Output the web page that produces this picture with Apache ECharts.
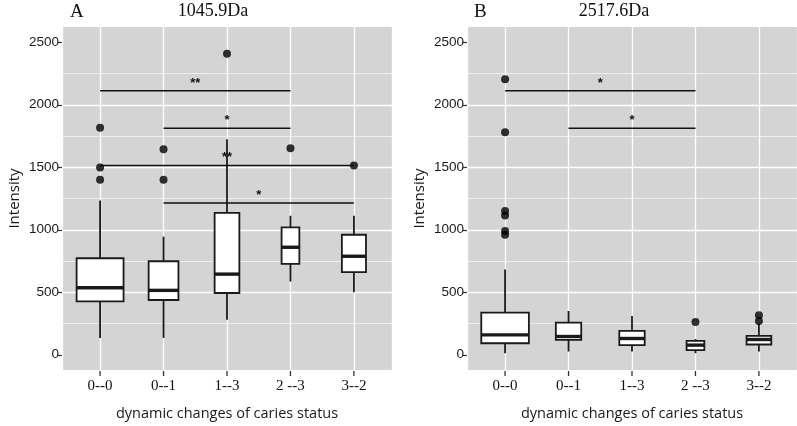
<!DOCTYPE html>
<html><head><meta charset="utf-8">
<script src="https://cdn.jsdelivr.net/npm/echarts@6/dist/echarts.min.js"></script>
<style>html,body{margin:0;padding:0;background:#fff}#c{width:797px;height:426px}</style>
</head><body><div id="c"></div>
<script>
const categories = ['0--0', '0--1', '1--3', '2 --3', '3--2'];
const yTicks = [0, 500, 1000, 1500, 2000, 2500];

// Panel A: 1045.9Da
const lowA = [135, 135, 281, 586, 501];
const q1A = [427, 438, 494, 727, 661];
const medA = [536, 515, 645, 860, 788];
const q3A = [772, 748, 1135, 1019, 960];
const highA = [1234, 945, 1725, 1112, 1112];
const outA = [[1817, 1499, 1401], [1645, 1401], [2409], [1653], [1515]];
const sigA = [[0, 3, 2112, '**'], [1, 3, 1812, '*'], [0, 4, 1515, '**'], [1, 4, 1215, '*']];

// Panel B: 2517.6Da
const lowB = [13, 26, 26, 13, 26];
const q1B = [92, 119, 77, 37, 82];
const medB = [159, 146, 130, 77, 122];
const q3B = [337, 257, 191, 111, 151];
const highB = [682, 350, 310, 125, 249];
const outB = [[2205, 1780, 1150, 1115, 990, 960], [], [], [263], [316, 271]];
const sigB = [[0, 3, 2112, '*'], [1, 3, 1812, '*']];

// style: relative box widths (varwidth)
const boxFracA = [0.74, 0.47, 0.39, 0.28, 0.38];
const boxFracB = [0.75, 0.40, 0.40, 0.28, 0.39];

const catPos = categories.map((c, i) => i + 1);
const Y_MIN = -122, Y_MAX = 2622;

function boxData(low, q1, med, q3, high, frac) {
  return categories.map((c, i) => [catPos[i], low[i], q1[i], med[i], q3[i], high[i], frac[i]]);
}
function outData(out) {
  const r = [];
  out.forEach((arr, i) => arr.forEach(v => r.push([catPos[i], v])));
  return r;
}
function sigData(sig) {
  return sig.map(s => [catPos[s[0]], catPos[s[1]], s[2], s[3]]);
}

function renderBox(params, api) {
  const x = api.value(0);
  const w = api.size([1, 0])[0] * api.value(6);
  const pLow = api.coord([x, api.value(1)]);
  const pQ1 = api.coord([x, api.value(2)]);
  const pMed = api.coord([x, api.value(3)]);
  const pQ3 = api.coord([x, api.value(4)]);
  const pHigh = api.coord([x, api.value(5)]);
  const cx = pLow[0];
  const st = {stroke: '#1a1a1a', lineWidth: 1.8, fill: null};
  return {
    type: 'group',
    children: [
      {type: 'line', shape: {x1: cx, y1: pQ1[1], x2: cx, y2: pLow[1]}, style: st},
      {type: 'line', shape: {x1: cx, y1: pQ3[1], x2: cx, y2: pHigh[1]}, style: st},
      {type: 'rect', shape: {x: cx - w / 2, y: pQ3[1], width: w, height: pQ1[1] - pQ3[1]},
        style: {stroke: '#1a1a1a', lineWidth: 1.8, fill: '#ffffff'}},
      {type: 'line', shape: {x1: cx - w / 2, y1: pMed[1], x2: cx + w / 2, y2: pMed[1]},
        style: {stroke: '#1a1a1a', lineWidth: 3.4}}
    ]
  };
}

function renderSig(params, api) {
  const p1 = api.coord([api.value(0), api.value(2)]);
  const p2 = api.coord([api.value(1), api.value(2)]);
  return {
    type: 'group',
    children: [
      {type: 'line', shape: {x1: p1[0], y1: p1[1], x2: p2[0], y2: p2[1]},
        style: {stroke: '#111', lineWidth: 1.5}},
      {type: 'text', x: (p1[0] + p2[0]) / 2, y: p1[1] - 1,
        style: {text: api.value(3), fill: '#111', font: 'bold 13px "Liberation Sans"',
          align: 'center', verticalAlign: 'bottom'}}
    ]
  };
}

function xAxisDef(gi) {
  return {
    type: 'value', gridIndex: gi, min: 0.4, max: 5.6, position: 'bottom',
    name: 'dynamic changes of caries status', nameLocation: 'middle', nameGap: 36,
    nameTextStyle: {fontFamily: 'Open Sans', fontSize: 14.5, color: '#1a1a1a'},
    axisLine: {show: false, onZero: false},
    axisTick: {show: false},
    axisLabel: {customValues: catPos, formatter: v => categories[Math.round(v) - 1] || '',
      fontFamily: 'Liberation Serif', fontSize: 15, color: '#111', margin: 9},
    splitLine: {show: true, lineStyle: {color: '#ffffff', width: 1.3}},
    minorSplitLine: {show: false}
  };
}
function yAxisDef(gi) {
  return {
    type: 'value', gridIndex: gi, min: Y_MIN, max: Y_MAX, position: 'left',
    name: 'Intensity', nameLocation: 'middle', nameGap: 40, nameRotate: 90,
    nameTextStyle: {fontFamily: 'Open Sans', fontSize: 15, color: '#1a1a1a'},
    axisLine: {show: false, onZero: false},
    axisTick: {show: true, length: 4, lineStyle: {color: '#333', width: 1.2}, customValues: yTicks},
    axisLabel: {customValues: yTicks, formatter: v => String(v),
      fontFamily: 'Liberation Sans', fontSize: 13.5, color: '#1a1a1a', margin: 3},
    splitLine: {show: true, showMinLine: false, showMaxLine: false, lineStyle: {color: '#ffffff', width: 1.3}},
    minorTick: {show: false, splitNumber: 2},
    minorSplitLine: {show: true, lineStyle: {color: '#ffffff', width: 0.6}}
  };
}

const titles = [
  {type: 'text', left: 70, top: 3, style: {text: 'A', font: '19px "Liberation Serif"', fill: '#111'}},
  {type: 'text', x: 213, y: 2, style: {text: '1045.9Da', font: '18px "Liberation Serif"', fill: '#111', align: 'center', verticalAlign: 'top'}},
  {type: 'text', left: 474, top: 3, style: {text: 'B', font: '19px "Liberation Serif"', fill: '#111'}},
  {type: 'text', x: 614, y: 2, style: {text: '2517.6Da', font: '18px "Liberation Serif"', fill: '#111', align: 'center', verticalAlign: 'top'}}
];

const chart = echarts.init(document.getElementById('c'), null, {renderer: 'canvas'});
chart.setOption({
  animation: false,
  backgroundColor: '#ffffff',
  grid: [
    {left: 62, right: 405, top: 27, bottom: 55, show: true, backgroundColor: '#d4d4d4', borderWidth: 0},
    {left: 467, right: 0, top: 27, bottom: 55, show: true, backgroundColor: '#d4d4d4', borderWidth: 0}
  ],
  xAxis: [xAxisDef(0), xAxisDef(1)],
  yAxis: [yAxisDef(0), yAxisDef(1)],
  graphic: titles,
  series: [
    {type: 'custom', xAxisIndex: 0, yAxisIndex: 0, renderItem: renderBox, data: boxData(lowA, q1A, medA, q3A, highA, boxFracA), z: 2},
    {type: 'scatter', xAxisIndex: 0, yAxisIndex: 0, data: outData(outA), symbolSize: 8, itemStyle: {color: '#000'}, z: 3},
    {type: 'custom', xAxisIndex: 0, yAxisIndex: 0, renderItem: renderSig, data: sigData(sigA), z: 4,
      dimensions: ['x1', 'x2', 'y', {name: 'label', type: 'ordinal'}]},
    {type: 'custom', xAxisIndex: 1, yAxisIndex: 1, renderItem: renderBox, data: boxData(lowB, q1B, medB, q3B, highB, boxFracB), z: 2},
    {type: 'scatter', xAxisIndex: 1, yAxisIndex: 1, data: outData(outB), symbolSize: 8, itemStyle: {color: '#000'}, z: 3},
    {type: 'custom', xAxisIndex: 1, yAxisIndex: 1, renderItem: renderSig, data: sigData(sigB), z: 4,
      dimensions: ['x1', 'x2', 'y', {name: 'label', type: 'ordinal'}]}
  ]
});

// x-axis tick marks below each panel, positioned through the axes' own scales
const ticks = [];
[0, 1].forEach(gi => {
  catPos.forEach(p => {
    const pt = chart.convertToPixel({xAxisIndex: gi, yAxisIndex: gi}, [p, Y_MIN]);
    ticks.push({type: 'line', z: 100, silent: true,
      shape: {x1: pt[0], y1: pt[1] + 1, x2: pt[0], y2: pt[1] + 6},
      style: {stroke: '#333', lineWidth: 1.3}});
  });
});
chart.setOption({graphic: titles.concat(ticks)});
</script></body></html>
